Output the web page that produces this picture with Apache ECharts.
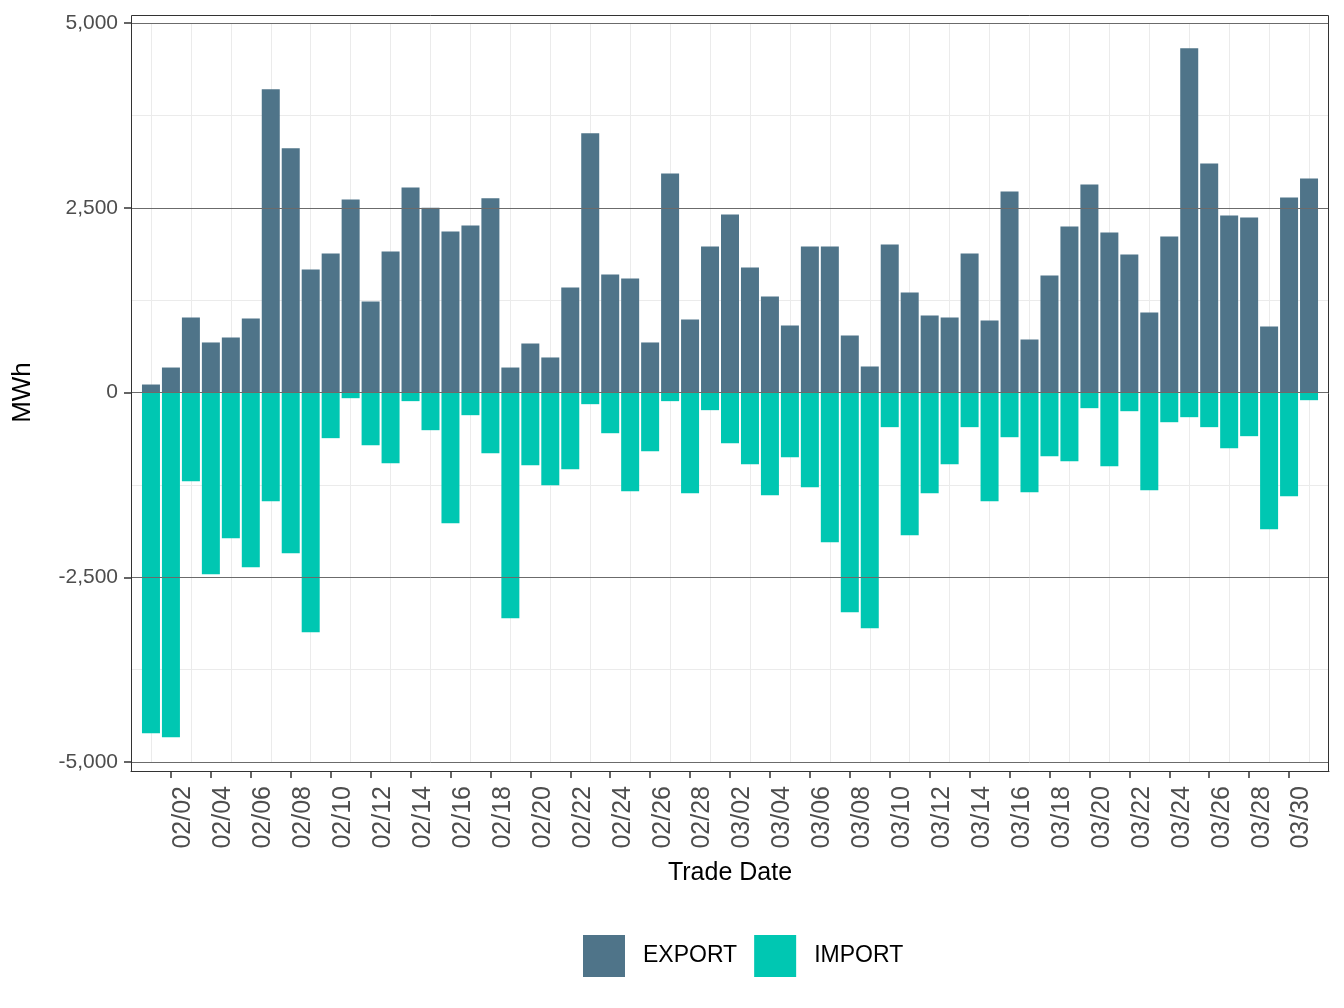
<!DOCTYPE html>
<html>
<head>
<meta charset="utf-8">
<script src="https://cdn.jsdelivr.net/npm/echarts@6/dist/echarts.min.js"></script>
<style>html, body { margin: 0; padding: 0; background: #fff; }</style>
</head>
<body>
<div id="chart" style="width: 1344px; height: 1008px;"></div>
<script>
  // trade dates (one bar pair per day)
  const tradeDates = [
    '02/01', '02/02', '02/03', '02/04', '02/05', '02/06', '02/07', '02/08', '02/09', '02/10',
    '02/11', '02/12', '02/13', '02/14', '02/15', '02/16', '02/17', '02/18', '02/19', '02/20',
    '02/21', '02/22', '02/23', '02/24', '02/25', '02/26', '02/27', '02/28',
    '03/01', '03/02', '03/03', '03/04', '03/05', '03/06', '03/07', '03/08', '03/09', '03/10',
    '03/11', '03/12', '03/13', '03/14', '03/15', '03/16', '03/17', '03/18', '03/19', '03/20',
    '03/21', '03/22', '03/23', '03/24', '03/25', '03/26', '03/27', '03/28', '03/29', '03/30', '03/31',
  ]
  const exportMWh = [
    108, 338, 1015, 677, 745, 1002, 4102, 3304, 1665, 1882,
    2613, 1232, 1909, 2775, 2500, 2180, 2261, 2627, 338, 663,
    474, 1422, 3507, 1598, 1543, 677, 2965, 988,
    1977, 2410, 1692, 1300, 907, 1977, 1977, 772, 352, 2004,
    1354, 1042, 1015, 1882, 975, 2721, 718, 1584, 2247, 2816,
    2166, 1868, 1083, 2112, 4657, 3100, 2396, 2369, 894, 2640, 2897,
  ]
  const importMWh = [
    -4612, -4666, -1200, -2460, -1972, -2365, -1471, -2175, -3245, -618,
    -77, -713, -957, -117, -510, -1769, -307, -821, -3055, -984,
    -1255, -1038, -158, -551, -1336, -794, -117, -1363,
    -239, -686, -970, -1390, -876, -1282, -2026, -2974, -3191, -469,
    -1932, -1363, -970, -469, -1471, -605, -1349, -862, -930, -212,
    -997, -253, -1322, -402, -334, -469, -754, -591, -1850, -1404, -104,
  ]
  // labelled ticks on the date axis
  const tickDates = [
    '02/02', '02/04', '02/06', '02/08', '02/10', '02/12', '02/14', '02/16', '02/18', '02/20',
    '02/22', '02/24', '02/26', '02/28', '03/02', '03/04', '03/06', '03/08', '03/10', '03/12',
    '03/14', '03/16', '03/18', '03/20', '03/22', '03/24', '03/26', '03/28', '03/30',
  ]
  const yTicks = [-5000, -2500, 0, 2500, 5000]

  const fontFamily = '"Liberation Sans", Arial, Helvetica, sans-serif'
  const tickIdx = tickDates.map(d => tradeDates.indexOf(d))

  const chart = echarts.init(document.getElementById('chart'))
  chart.setOption({
    animation: false,
    textStyle: { fontFamily: fontFamily },
    grid: { left: 131, right: 15, top: 23, bottom: 246 },
    graphic: [
      {
        type: 'rect',
        shape: { x: 131.5, y: 15.5, width: 1197, height: 756 },
        style: { fill: 'none', stroke: '#333', lineWidth: 1 },
        z: 100,
        silent: true,
      },
    ],
    legend: {
      data: ['EXPORT', 'IMPORT'],
      left: 583,
      top: 935,
      padding: 0,
      icon: 'rect',
      itemWidth: 42,
      itemHeight: 42,
      itemGap: 17,
      textStyle: { fontSize: 23, color: '#000', padding: [0, 0, 0, 13] },
    },
    xAxis: {
      type: 'value',
      min: -1,
      max: tradeDates.length,
      interval: 2,
      offset: 9,
      name: 'Trade Date',
      nameLocation: 'middle',
      nameGap: 90,
      nameTextStyle: { fontSize: 25, color: '#000' },
      axisLine: { show: true, onZero: false, lineStyle: { color: '#333', width: 1 } },
      axisTick: { show: true, length: 7, customValues: tickIdx, lineStyle: { color: '#333', width: 1.5 } },
      axisLabel: {
        customValues: tickIdx,
        rotate: 90,
        fontSize: 25,
        color: '#4d4d4d',
        margin: 15,
        verticalAlign: 'top',
        formatter: v => tradeDates[v] || '',
      },
      splitLine: { show: false },
      minorTick: { show: false, splitNumber: 2 },
      minorSplitLine: { show: true, lineStyle: { color: '#ebebeb', width: 1 } },
    },
    yAxis: {
      type: 'value',
      min: yTicks[0],
      max: yTicks[yTicks.length - 1],
      interval: 2500,
      name: 'MWh',
      nameLocation: 'middle',
      nameGap: 95,
      nameTextStyle: { fontSize: 26, color: '#000' },
      axisLine: { show: true, onZero: false, lineStyle: { color: '#333', width: 1 } },
      axisTick: { show: true, length: 7, lineStyle: { color: '#333', width: 1.5 } },
      axisLabel: {
        fontSize: 21,
        color: '#4d4d4d',
        margin: 13,
        formatter: v => v.toLocaleString('en-US'),
      },
      splitLine: { show: false },
      minorTick: { show: false, splitNumber: 2 },
      minorSplitLine: { show: true, lineStyle: { color: '#ebebeb', width: 1 } },
    },
    series: [
      {
        name: 'EXPORT',
        type: 'bar',
        stack: 'flow',
        barWidth: 18,
        data: exportMWh.map((v, i) => [i, v]),
        itemStyle: { color: '#4f7489' },
      },
      {
        name: 'IMPORT',
        type: 'bar',
        stack: 'flow',
        barWidth: 18,
        data: importMWh.map((v, i) => [i, v]),
        itemStyle: { color: '#00c7b2' },
        markLine: {
          silent: true,
          symbol: 'none',
          label: { show: false },
          lineStyle: { color: '#6b6b6b', width: 1, type: 'solid' },
          data: yTicks.map(v => ({ yAxis: v })),
        },
      },
    ],
  })
</script>
</body>
</html>
